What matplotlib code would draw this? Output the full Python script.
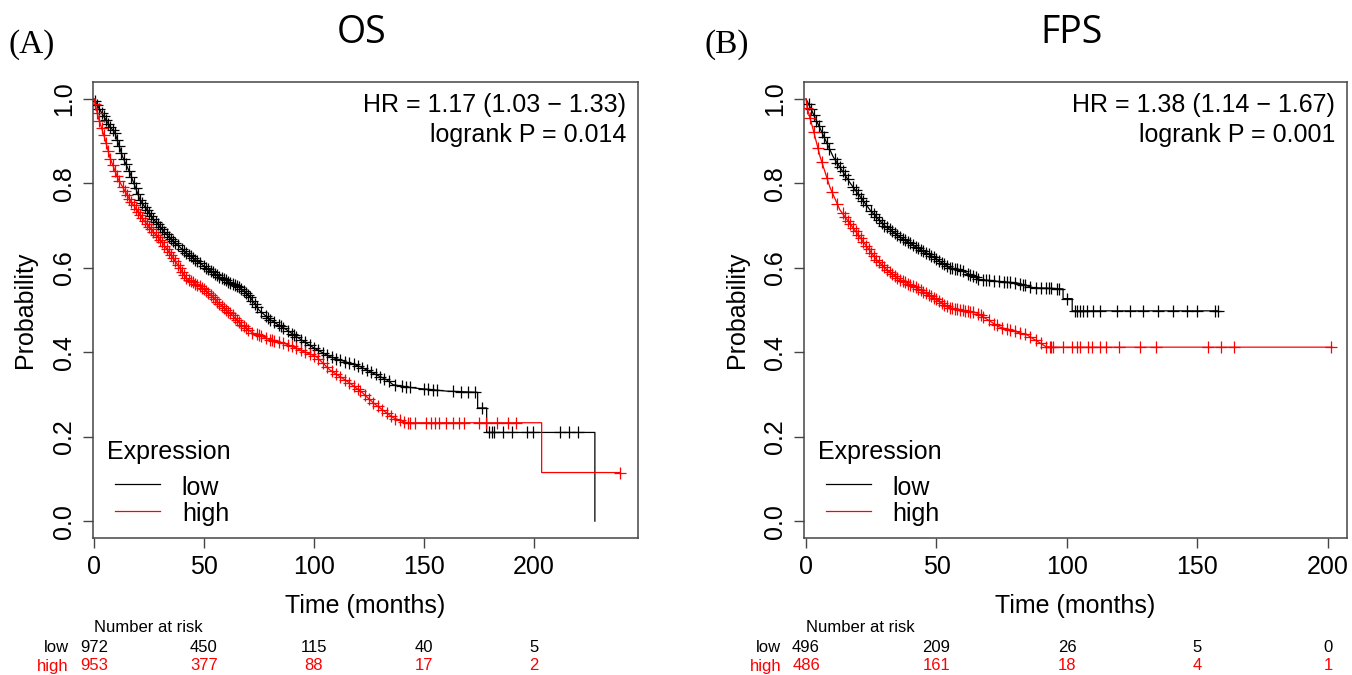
import numpy as np
import matplotlib.pyplot as plt
from matplotlib import transforms

plt.rcParams['font.family'] = ['Liberation Sans', 'DejaVu Sans']

# ---------------- OS panel (A) ----------------
os_low_t = [0, 2.7, 7.3, 9.5, 13, 16.4, 21, 27, 34.5, 42, 51, 58, 66, 71, 75, 80, 87, 94, 100,
            107, 114, 121, 127, 133, 136, 142, 146, 160, 174.4, 174.4, 178.5, 178.5, 227.7, 227.7]
os_low_s = [1.0, 0.974, 0.934, 0.92, 0.863, 0.824, 0.76, 0.715, 0.67, 0.635, 0.60, 0.575, 0.555, 0.53,
            0.50, 0.477, 0.455, 0.43, 0.41, 0.39, 0.378, 0.366, 0.35, 0.335, 0.323, 0.318, 0.315,
            0.308, 0.305, 0.268, 0.268, 0.21, 0.21, 0.0]
os_low_cens = [0.5, 1.5, 2.5, 3.5, 4.5, 5.5, 6.5, 7.5, 8.5, 9.5, 10.5, 11.5, 12.5, 13.5, 14.5, 16, 17,
               18, 19, 20, 21, 22, 23, 24, 25, 26, 27, 28, 29, 30, 31, 32, 33, 34, 35, 36, 37, 38, 40,
               41, 42, 43, 44, 45, 46, 47, 48, 50, 51, 52, 53, 54, 55, 56, 57, 58, 59, 60, 61, 62, 63,
               64, 65, 66, 67, 68, 69, 70, 71, 72, 73, 74, 76, 78, 79, 80, 82, 84, 85, 86, 88, 90, 91,
               92, 94, 96, 98, 100, 102, 104, 106, 108, 110, 112, 114, 116, 118, 120, 122, 124, 126,
               128, 130, 132, 134, 137, 140, 142, 143.6, 150, 152, 154, 156, 163, 167, 170, 173,
               176.5, 179.7, 181, 182, 186, 190, 197, 199.5, 212, 216, 220]

os_high_t = [0, 2, 5, 7.3, 11, 16.4, 23, 31, 37, 42, 50, 56, 63, 67, 72, 80, 86, 90.5, 96, 101,
             107, 111, 116, 122, 127, 131, 136, 142, 203.5, 203.5, 239]
os_high_s = [1.0, 0.955, 0.905, 0.86, 0.81, 0.76, 0.71, 0.66, 0.615, 0.575, 0.55, 0.52, 0.487, 0.465,
             0.446, 0.43, 0.422, 0.413, 0.40, 0.39, 0.359, 0.345, 0.328, 0.304, 0.28, 0.264, 0.245,
             0.233, 0.233, 0.115, 0.115]
os_high_cens = [0.5, 1.5, 2.5, 3.5, 4.5, 5.5, 6.5, 7.5, 8.5, 9.5, 10.5, 11.5, 13, 14, 15, 16, 17, 18,
                19, 20, 21, 22, 23, 24, 25, 26, 27, 28, 29, 30, 31, 32, 33, 34, 35, 36, 37, 38, 39,
                40, 41, 42, 43, 44, 45, 46, 47, 48, 49, 50, 51, 52, 53, 54, 55, 56, 57, 58, 59, 60,
                61, 62, 63, 64, 65, 66, 67, 68, 69, 70, 72, 74, 75, 76, 78, 80, 81, 82, 84, 86, 88,
                90, 92, 94, 96, 98, 100, 102, 104, 106, 108, 110, 112, 114, 116, 118, 120, 121, 123,
                125, 127, 129, 131, 133, 135, 137, 139, 141, 142.7, 143.6, 146, 151, 153, 155, 157,
                160, 163, 166, 168, 175, 178, 183, 188, 192, 239]

# ---------------- FPS panel (B) ----------------
fps_low_t = [0, 2, 5.4, 10.4, 17, 24.5, 30, 36, 42, 48.7, 55, 59, 66.7, 75, 81, 87, 98.5, 98.5,
             102, 102, 158]
fps_low_s = [1.0, 0.975, 0.93, 0.863, 0.80, 0.737, 0.70, 0.673, 0.65, 0.626, 0.60, 0.595, 0.572,
             0.567, 0.564, 0.553, 0.55, 0.527, 0.527, 0.498, 0.498]
fps_low_cens = [1, 2, 3, 4, 5, 6, 7, 8, 9, 11, 12, 13, 14, 15, 16, 18, 19, 20, 21, 22, 23, 25, 26,
                27, 28, 29, 30, 31, 32, 33, 34, 35, 36, 37, 38, 39, 40, 41, 42, 43, 44, 45, 46, 47,
                48, 49, 50, 51, 52, 53, 54, 55, 56, 57, 58, 59, 60, 62, 63, 64, 65, 66, 68, 69, 70,
                72, 74, 76, 77, 78, 80, 82, 83, 84, 86, 88, 90, 92, 93, 94, 96, 97, 100, 103, 104,
                105, 106, 107.5, 110, 112.6, 119, 124, 129, 135, 140.6, 146, 150, 156.7, 158]

fps_high_t = [0, 0.4, 2.8, 5.4, 9.2, 13, 19.4, 27, 31, 36, 43.7, 50, 55, 65.5, 74, 84.7, 92, 95, 201.6]
fps_high_s = [1.0, 0.98, 0.926, 0.863, 0.79, 0.737, 0.683, 0.619, 0.595, 0.572, 0.548, 0.525, 0.505,
              0.493, 0.46, 0.441, 0.413, 0.412, 0.412]
fps_high_cens = [0.5, 1.5, 3, 4.5, 6, 8, 10, 12, 14, 15, 16, 17, 18, 19, 20, 21, 22, 23, 24, 25, 26,
                 27, 28, 29, 30, 31, 32, 33, 34, 35, 36, 37, 38, 39, 40, 41, 42, 43, 44, 45, 46, 47,
                 48, 49, 50, 51, 52, 53, 54, 55, 56, 57, 58, 59, 60, 61, 62, 63, 64, 66, 67, 68, 70,
                 72, 73, 75, 77, 78, 80, 82, 84, 86, 88, 90, 92, 93.5, 94, 94.6, 98.5, 102, 104, 105,
                 108, 109.6, 112.6, 115, 120, 128, 134, 154, 159, 164, 201]

risk_times = [0, 50, 100, 150, 200]
os_risk_low = [972, 450, 115, 40, 5]
os_risk_high = [953, 377, 88, 17, 2]
fps_risk_low = [496, 209, 26, 5, 0]
fps_risk_high = [486, 161, 18, 4, 1]

RED = '#ff0000'
SPINE = '#454545'

fig = plt.figure(figsize=(13.52, 6.75), dpi=100)
W, H = 1352, 675


def draw_panel(rect, xlim, curves, hr_lines, title, title_x, tag, tag_x, risk_low, risk_high):
    ax = fig.add_axes(rect)
    for t, s, cens, col in curves:
        ax.plot(t, s, color=col, lw=0.9, zorder=3)
        cy = np.interp(cens, t, s)
        ax.plot(cens, cy, linestyle='none', marker='+', ms=8, mew=0.9, color=col, zorder=3)

    ax.set_xlim(*xlim)
    ax.set_ylim(-0.04, 1.04)
    ax.set_xticks([0, 50, 100, 150, 200])
    ax.set_yticks([0.0, 0.2, 0.4, 0.6, 0.8, 1.0])
    ax.set_yticklabels(['0.0', '0.2', '0.4', '0.6', '0.8', '1.0'], rotation=90, va='center')
    ax.tick_params(labelsize=18, length=7, width=1, color=SPINE, pad=5)
    for sp in ax.spines.values():
        sp.set_color(SPINE)
        sp.set_linewidth(1.1)

    ax.set_xlabel('Time (months)', fontsize=18)
    ax.xaxis.set_label_coords(0.5, -0.122)
    ax.xaxis.label.set_va('top')
    ax.set_ylabel('Probability', fontsize=18)
    ax.yaxis.set_label_coords(-0.102, 0.5)

    ax.text(0.978, 0.950, hr_lines[0], transform=ax.transAxes, ha='right', va='center', fontsize=18)
    ax.text(0.978, 0.884, hr_lines[1], transform=ax.transAxes, ha='right', va='center', fontsize=18)

    # legend
    ax.text(0.026, 0.189, 'Expression', transform=ax.transAxes, ha='left', va='center', fontsize=18)
    ax.plot([0.040, 0.123], [0.118, 0.118], transform=ax.transAxes, color='black', lw=0.9)
    ax.plot([0.040, 0.123], [0.059, 0.059], transform=ax.transAxes, color=RED, lw=0.9)
    ax.text(0.163, 0.110, 'low', transform=ax.transAxes, ha='left', va='center', fontsize=18)
    ax.text(0.163, 0.052, 'high', transform=ax.transAxes, ha='left', va='center', fontsize=18)

    # titles
    fig.text(title_x / W, 1 - 33 / H, title, ha='center', va='center', fontsize=27,
             family=['Open Sans', 'DejaVu Sans'])
    fig.text(tag_x / W, 1 - 45 / H, tag, ha='left', va='center', fontsize=24,
             family=['Liberation Serif', 'DejaVu Serif'])

    # number at risk
    trans = transforms.blended_transform_factory(ax.transData, fig.transFigure)
    lab_trans = transforms.offset_copy(trans, fig=fig, x=-25, y=0, units='dots')
    fig.text(0, 1 - 628 / H, 'Number at risk', transform=trans, ha='left', va='center', fontsize=12)
    fig.text(0, 1 - 647 / H, 'low', transform=lab_trans, ha='right', va='center', fontsize=12)
    fig.text(0, 1 - 666 / H, 'high', transform=lab_trans, ha='right', va='center', fontsize=12,
             color=RED)
    for tt, nl, nh in zip(risk_times, risk_low, risk_high):
        fig.text(tt, 1 - 647 / H, str(nl), transform=trans, ha='center', va='center', fontsize=12)
        fig.text(tt, 1 - 666 / H, str(nh), transform=trans, ha='center', va='center', fontsize=12,
                 color=RED)
    return ax


draw_panel([93 / W, 1 - 538 / H, 545 / W, 456 / H], (-0.45, 247.3),
           [(os_low_t, os_low_s, os_low_cens, 'black'),
            (os_high_t, os_high_s, os_high_cens, RED)],
           ['HR = 1.17 (1.03 \u2212 1.33)', 'logrank P = 0.014'], 'OS', 362, '(A)', 9,
           os_risk_low, os_risk_high)

draw_panel([804 / W, 1 - 538 / H, 543 / W, 456 / H], (-0.77, 207.3),
           [(fps_low_t, fps_low_s, fps_low_cens, 'black'),
            (fps_high_t, fps_high_s, fps_high_cens, RED)],
           ['HR = 1.38 (1.14 \u2212 1.67)', 'logrank P = 0.001'], 'FPS', 1072, '(B)', 704,
           fps_risk_low, fps_risk_high)

fig.savefig('out.png', dpi=100)
